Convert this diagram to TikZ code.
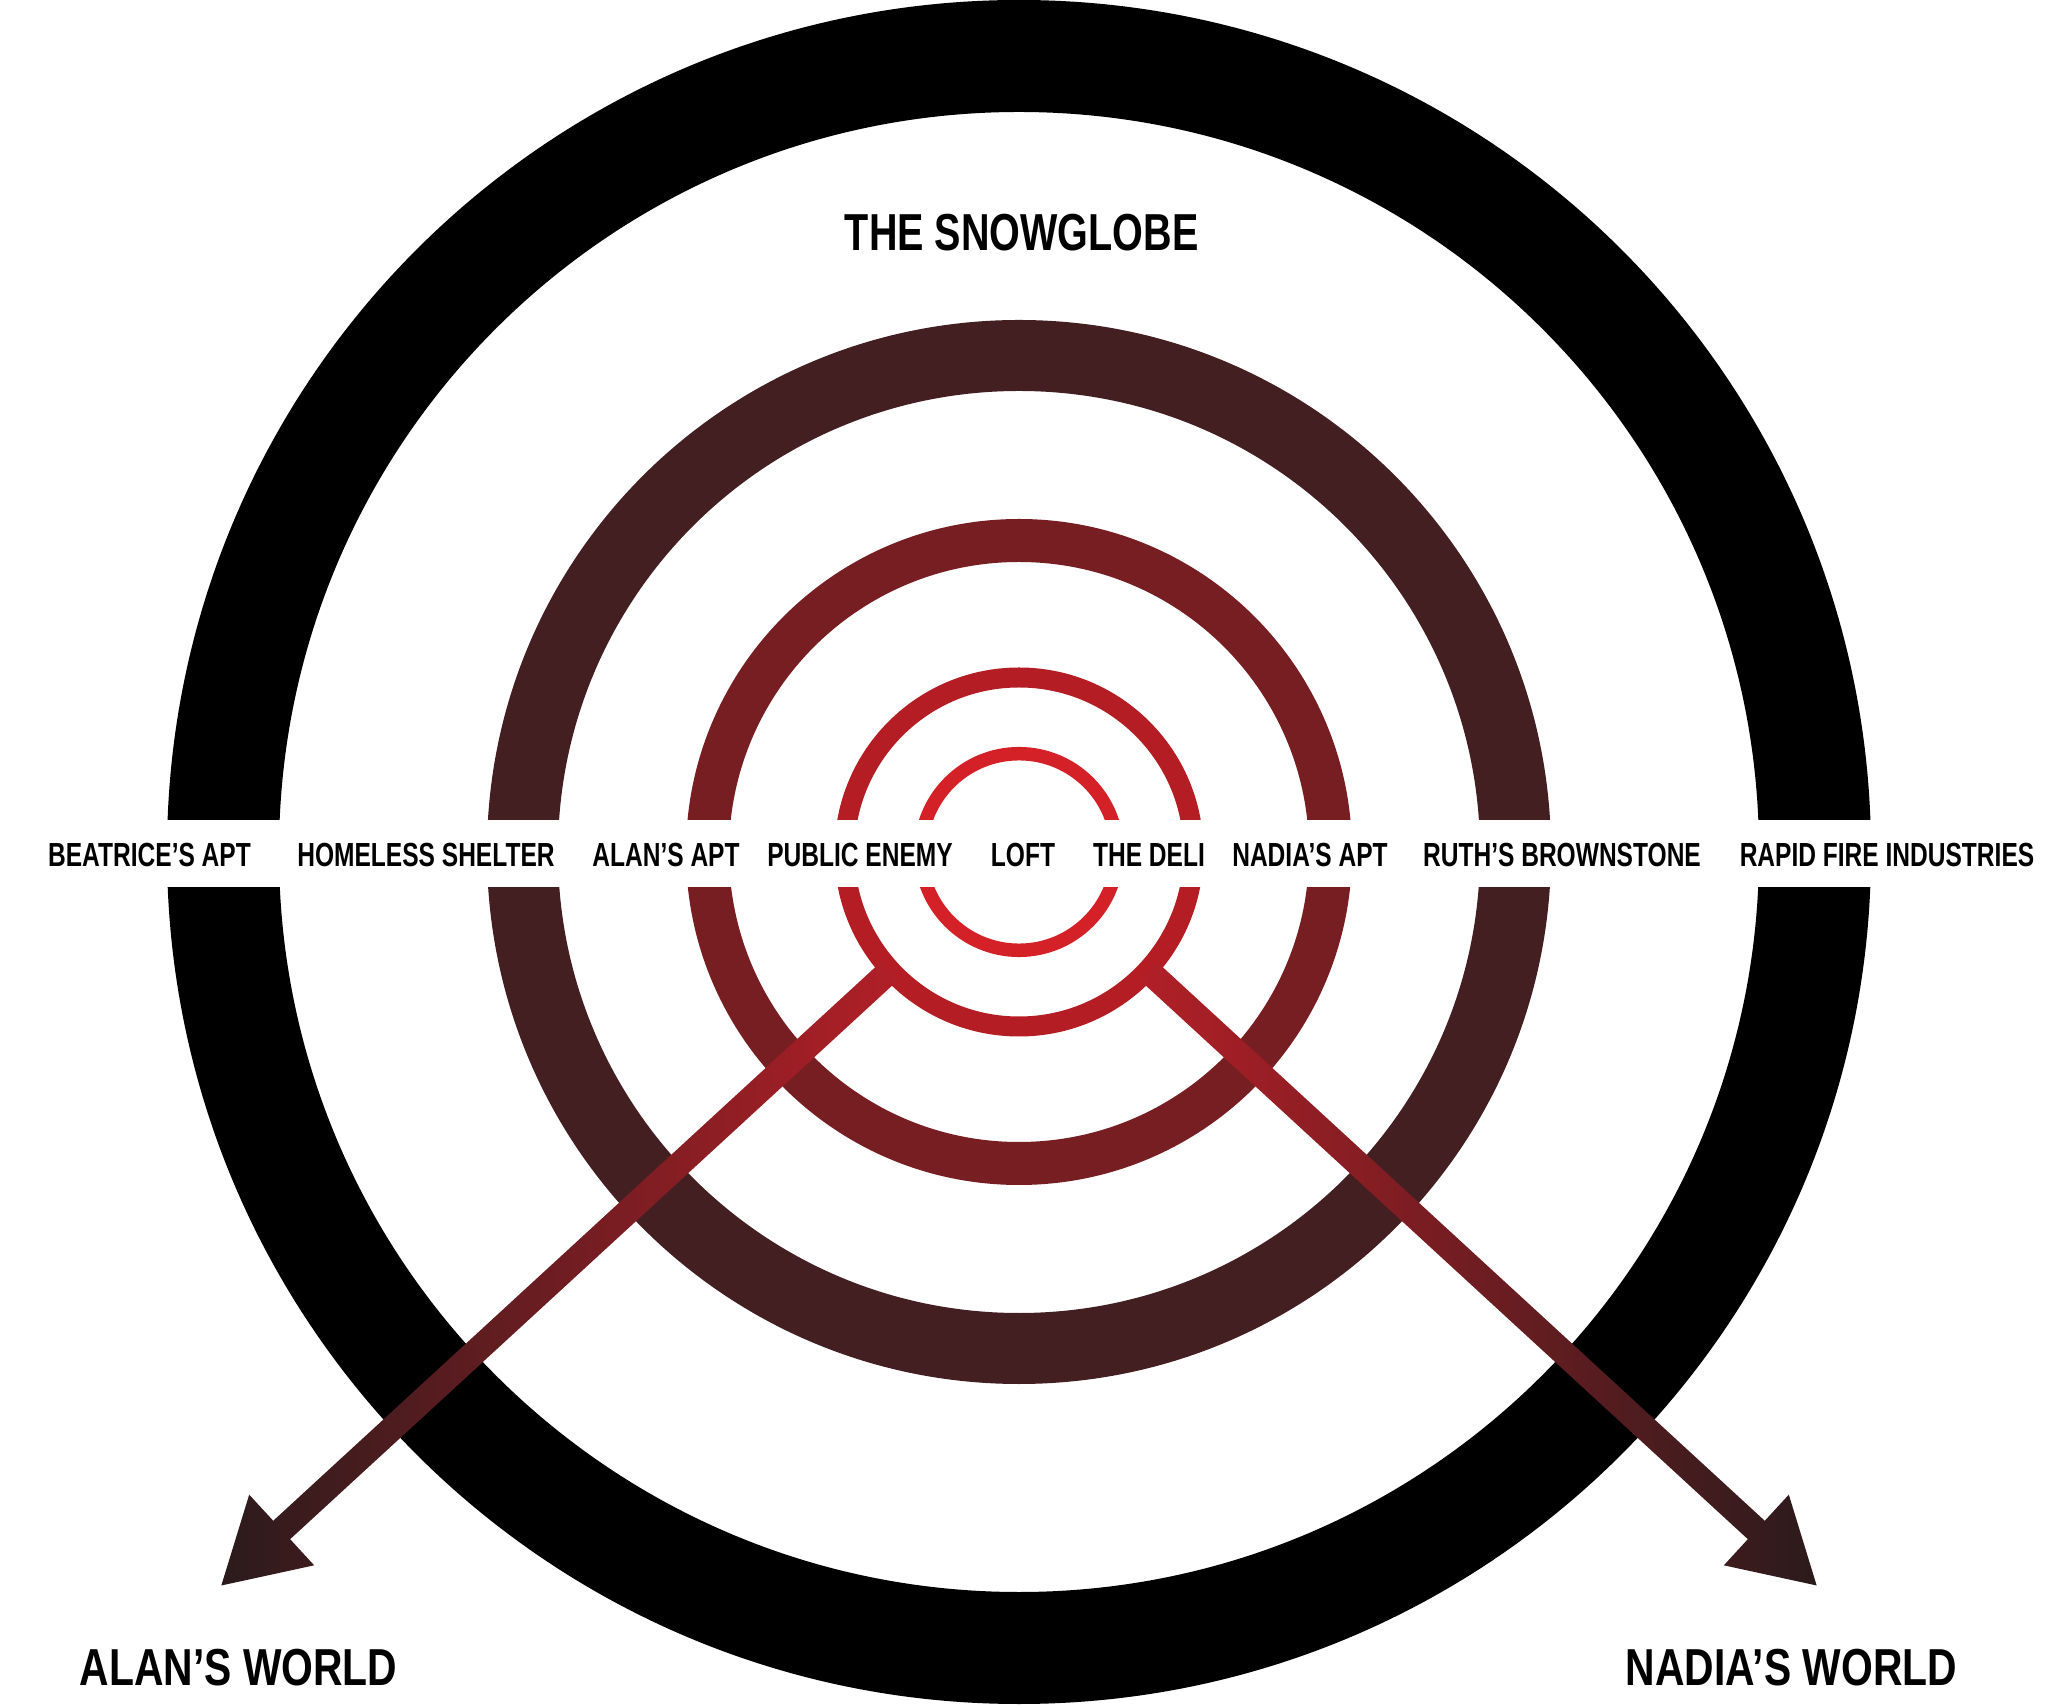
\documentclass[tikz,border=0pt]{standalone}
\usepackage{fontspec}
\setmainfont{Liberation Sans}[FakeStretch=0.76]
\newfontfamily\placefont{Liberation Sans}[FakeStretch=0.735]
\newfontfamily\worldfont{Liberation Sans}[FakeStretch=0.785]
\usepackage{tikz}
\usetikzlibrary{calc}
\definecolor{snowblack}{HTML}{000000}
\definecolor{ringbrown}{HTML}{431F22}
\definecolor{ringmaroon}{HTML}{771E22}
\definecolor{ringred}{HTML}{B51D24}
\definecolor{ringscarlet}{HTML}{D42027}
\definecolor{arrowred}{HTML}{B21F27}
\definecolor{arrowdark}{HTML}{2B1B1C}

\begin{document}
\begin{tikzpicture}[x=0.1mm, y=0.1mm,
    ringlabel/.style={font=\placefont\fontsize{9.5}{11}\selectfont\bfseries, anchor=base, inner sep=0pt},
    globelabel/.style={font=\fontsize{14.8}{17}\selectfont\bfseries, anchor=base, inner sep=0pt},
    worldlabel/.style={font=\worldfont\fontsize{14.8}{17}\selectfont\bfseries, anchor=base, inner sep=0pt}]

    \useasboundingbox (-1019,-853) rectangle (1029,852);
    \coordinate (globe) at (0,0);

    % rings, outside in
    \foreach \r/\w/\c in {796/11.2mm/snowblack, 496.5/7.1mm/ringbrown, 311.5/4.3mm/ringmaroon, 174.5/2mm/ringred, 98.3/1.35mm/ringscarlet} {
      \draw [\c, line width=\w] (globe) circle (\r);
    }

    % white band for the place names
    \fill [white] (-1019,-35) rectangle (1029,32);

    % the two worlds
    \foreach \nm/\ang/\lc/\rc in {alan/222.6/arrowdark/arrowred, nadia/317.4/arrowred/arrowdark} {
      \coordinate (\nm-start) at (\ang:175);
      \coordinate (\nm-tip) at (\ang:1083.7);
      \coordinate (\nm-base) at ($(\nm-tip)!8.2mm!(\nm-start)$);
      \shade [left color=\lc, right color=\rc]
        ($(\nm-start)!1.25mm!90:(\nm-tip)$) -- ($(\nm-base)!1.25mm!90:(\nm-tip)$)
        -- ($(\nm-base)!4.8mm!90:(\nm-tip)$) -- (\nm-tip)
        -- ($(\nm-base)!4.8mm!-90:(\nm-tip)$) -- ($(\nm-base)!1.25mm!-90:(\nm-tip)$)
        -- ($(\nm-start)!1.25mm!-90:(\nm-tip)$) -- cycle;
    }

    \node (snowglobe) [globelabel] at (2.7,601) {THE SNOWGLOBE};

    \node (beatrice) [ringlabel] at (-869.5,-15) {BEATRICE’S APT};
    \node (shelter) [ringlabel] at (-593,-15) {HOMELESS SHELTER};
    \node (alanapt) [ringlabel] at (-353,-15) {ALAN’S APT};
    \node (enemy) [ringlabel] at (-159,-15) {PUBLIC ENEMY};
    \node (loft) [ringlabel] at (4,-15) {LOFT};
    \node (deli) [ringlabel] at (130,-15) {THE DELI};
    \node (nadiaapt) [ringlabel] at (291,-15) {NADIA’S APT};
    \node (ruth) [ringlabel] at (543,-15) {RUTH’S BROWNSTONE};
    \node (rapid) [ringlabel] at (868,-15) {RAPID FIRE INDUSTRIES};

    \node (alanworld) [worldlabel] at (-780.5,-833) {ALAN’S WORLD};
    \node (nadiaworld) [worldlabel] at (772.5,-833) {NADIA’S WORLD};
\end{tikzpicture}
\end{document}
